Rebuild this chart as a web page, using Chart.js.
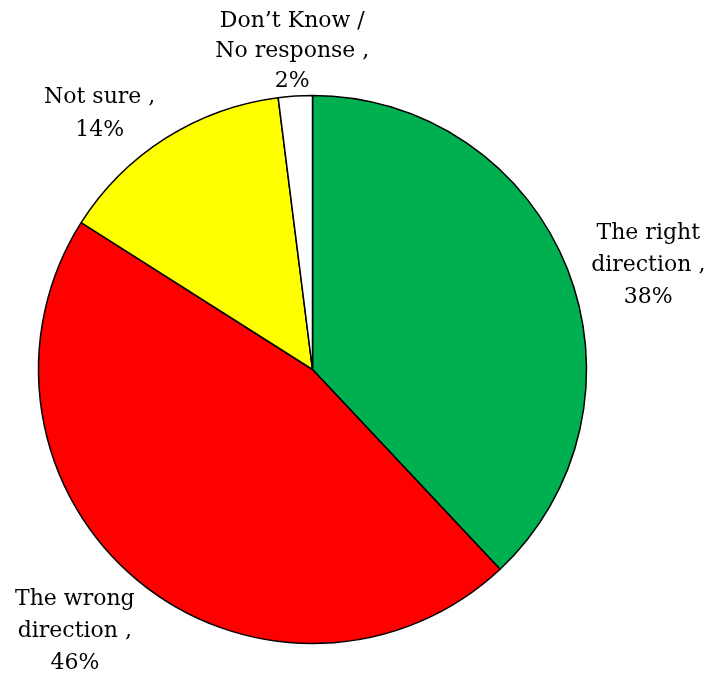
<!DOCTYPE html>
<html>
<head>
<meta charset="utf-8">
<script src="https://cdn.jsdelivr.net/npm/chart.js@4/dist/chart.umd.min.js"></script>
<style>
  html, body { margin: 0; padding: 0; background: #ffffff; }
  #wrap { width: 711px; height: 678px; }
</style>
</head>
<body>
<div id="wrap"><canvas id="c" width="711" height="678"></canvas></div>
<script>
// ---- data ----
const categories = ['The right direction', 'The wrong direction', 'Not sure', 'Don\u2019t Know / No response'];
const values = [38, 46, 14, 2];
const labelLines = [
  ['The right', 'direction ,'],
  ['The wrong', 'direction ,'],
  ['Not sure ,'],
  ['Don\u2019t Know /', 'No response ,']
];
const sliceColors = ['#00B050', '#FF0000', '#FFFF00', '#FFFFFF'];

// ---- label placement (styles) ----
const labelOffsets = [[81, -3], [-63, 51], [-66, -24], [-3, -45]];
const labelLineHeights = [32, 32, 33, 30];
const labelFont = '22px "DejaVu Serif", "Liberation Serif", serif';

const outsideLabels = {
  id: 'outsideLabels',
  afterDatasetsDraw(chart) {
    const ctx = chart.ctx;
    const meta = chart.getDatasetMeta(0);
    ctx.save();
    ctx.font = labelFont;
    ctx.fillStyle = '#000000';
    ctx.textAlign = 'center';
    ctx.textBaseline = 'middle';
    meta.data.forEach((arc, i) => {
      const p = arc.getProps(['x', 'y', 'startAngle', 'endAngle', 'outerRadius'], true);
      const mid = (p.startAngle + p.endAngle) / 2;
      const ex = p.x + Math.cos(mid) * p.outerRadius;
      const ey = p.y + Math.sin(mid) * p.outerRadius;
      const lines = labelLines[i].concat([values[i] + '%']);
      const cx = ex + labelOffsets[i][0];
      const cy = ey + labelOffsets[i][1];
      const n = lines.length;
      const lh = labelLineHeights[i];
      lines.forEach((t, k) => {
        ctx.fillText(t, cx, cy + (k - (n - 1) / 2) * lh);
      });
    });
    ctx.restore();
  }
};

new Chart(document.getElementById('c'), {
  type: 'pie',
  data: {
    labels: categories,
    datasets: [{
      data: values,
      backgroundColor: sliceColors,
      borderColor: '#000000',
      borderWidth: 1.5,
      borderAlign: 'center'
    }]
  },
  options: {
    responsive: false,
    animation: false,
    radius: 274,
    rotation: 0,
    layout: { padding: { left: 0, right: 86, top: 61, bottom: 0 } },
    plugins: {
      legend: { display: false },
      tooltip: { enabled: false }
    }
  },
  plugins: [outsideLabels]
});
</script>
</body>
</html>
